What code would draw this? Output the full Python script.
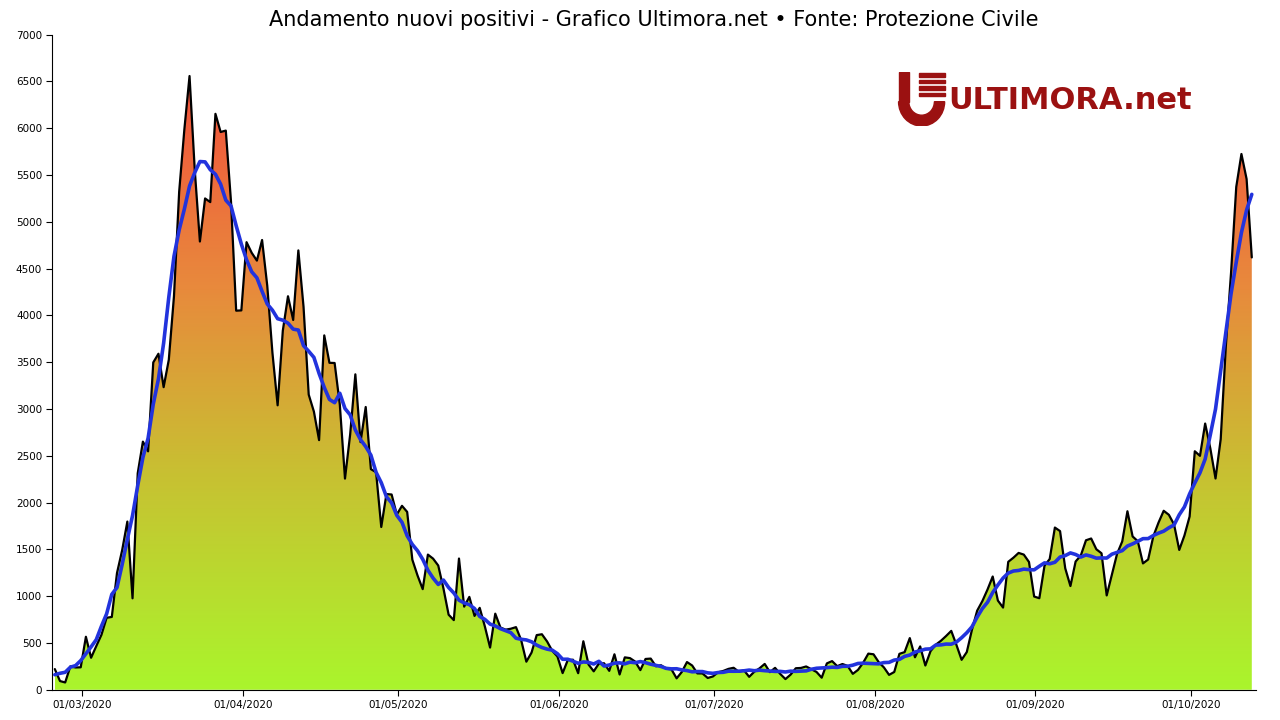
import numpy as np, pandas as pd, seaborn as sns, matplotlib
matplotlib.use("Agg")
import matplotlib.pyplot as plt
import matplotlib.dates as mdates
from matplotlib.colors import LinearSegmentedColormap
from matplotlib.patches import Wedge, Rectangle

start_date = "2020-02-24 18:00"
nuovi_positivi = [221,93,78,250,238,240,566,342,466,587,769,778,1247,1492,1797,977,2313,2651,2547,3497,3590,3233,3526,4207,5322,5986,6557,5560,4789,5249,5210,6153,5959,5974,5217,4050,4053,4782,4668,4585,4805,4316,3599,3039,3836,4204,3951,4694,4092,3153,2972,2667,3786,3493,3491,3047,2256,2729,3370,2646,3021,2357,2324,1739,2091,2086,1872,1965,1900,1389,1221,1075,1444,1401,1327,1083,802,744,1402,888,992,789,875,675,451,813,665,642,652,669,531,300,397,584,593,516,416,355,178,318,321,177,518,270,197,280,283,202,379,163,346,338,301,210,329,333,251,262,224,218,122,190,296,259,175,174,126,142,187,201,223,235,192,208,138,193,229,276,188,234,169,114,162,230,233,249,219,190,129,282,306,252,275,255,170,212,289,386,379,295,239,159,190,384,402,552,347,463,259,412,481,523,574,629,479,320,403,642,845,947,1071,1210,953,878,1367,1411,1462,1444,1365,996,978,1326,1397,1733,1695,1297,1108,1370,1434,1597,1616,1501,1458,1008,1229,1452,1585,1907,1638,1587,1350,1392,1640,1786,1912,1869,1766,1494,1648,1851,2548,2499,2844,2578,2257,2677,3678,4458,5372,5724,5456,4619]
title = "Andamento nuovi positivi - Grafico Ultimora.net • Fonte: Protezione Civile"
y_ticks = list(range(0, 7001, 500))

dates = pd.date_range(start_date, periods=len(nuovi_positivi), freq="D")
df = pd.DataFrame({"data": dates, "nuovi": nuovi_positivi})
df["media"] = df["nuovi"].rolling(7, center=True, min_periods=1).mean()

sns.set_style("white")
plt.rcParams['font.family'] = ['DejaVu Sans']
fig = plt.figure(figsize=(12.8, 7.2), dpi=100)
ax = fig.add_axes([0.041, 0.042, 0.940, 0.910])

x = mdates.date2num(df["data"])
cmap = LinearSegmentedColormap.from_list(
    "g", [(0, "#aaf52c"), (0.35, "#c8c032"), (0.65, "#e88a3c"), (1.0, "#f2503c")])
poly = ax.fill_between(x, 0, df["nuovi"], color="none")
grad = np.linspace(0, 7000 / 6600, 256).reshape(-1, 1)
im = ax.imshow(np.clip(grad, 0, 1), cmap=cmap, vmin=0, vmax=1, aspect="auto", origin="lower",
               extent=[x[0], x[-1], 0, 7000], zorder=1)
im.set_clip_path(poly.get_paths()[0], transform=ax.transData)

sns.lineplot(data=df, x="data", y="nuovi", color="black", lw=1.6, ax=ax, zorder=3)
sns.lineplot(data=df, x="data", y="media", color="#2233dd", lw=2.6, ax=ax, zorder=4)

x0 = mdates.date2num(pd.Timestamp("2020-02-24"))
ax.set_xlim(x0 + 0.3, x0 + 232.5)
ax.set_ylim(0, 7000)
ax.set_yticks(y_ticks)
ax.xaxis.set_major_locator(mdates.MonthLocator(bymonthday=1))
ax.xaxis.set_major_formatter(mdates.DateFormatter("%d/%m/%Y"))
ax.tick_params(labelsize=7.5, length=4, direction="out", left=True, bottom=True, colors="black")
ax.set_xlabel(""); ax.set_ylabel("")
for s in ["top", "right"]:
    ax.spines[s].set_visible(False)
for s in ["left", "bottom"]:
    ax.spines[s].set_color("black")
ax.set_title(title, fontsize=15, pad=6, color="black")

# logo
red = "#9b1111"
fig.text(0.741, 0.861, "ULTIMORA.net", fontsize=22, fontweight="bold", color=red, va="center")
lax = fig.add_axes([0.700, 0.825, 0.040, 0.075]); lax.axis("off")
lax.set_xlim(0, 1); lax.set_ylim(0, 1)
lax.add_patch(Wedge((0.5, 0.45), 0.45, 180, 360, width=0.2, color=red))
lax.add_patch(Rectangle((0.05, 0.45), 0.2, 0.55, color=red))
for i in range(4):
    lax.add_patch(Rectangle((0.45, 0.55 + i * 0.12), 0.5, 0.07, color=red))

fig.savefig("out.png", dpi=100)
